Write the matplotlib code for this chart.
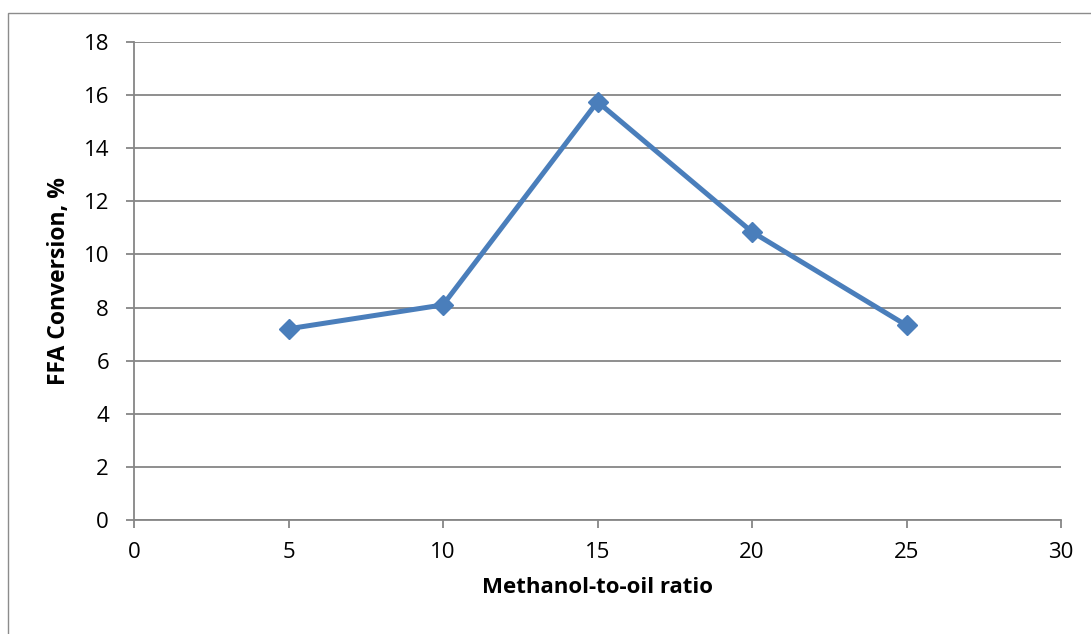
import matplotlib
matplotlib.use("Agg")
import matplotlib.pyplot as plt
from matplotlib.patches import Rectangle

ratio = [5, 10, 15, 20, 25]
conversion = [7.2, 8.1, 15.75, 10.85, 7.33]
x_ticks = [0, 5, 10, 15, 20, 25, 30]
y_ticks = [0, 2, 4, 6, 8, 10, 12, 14, 16, 18]

plt.rcParams['font.family'] = ['Open Sans', 'DejaVu Sans']

W, H = 1091, 634
fig = plt.figure(figsize=(W / 100, H / 100), dpi=100)
ax = fig.add_axes([134 / W, 1 - 520 / H, (1061 - 134) / W, (520 - 42) / H])

grey = '#868686'
ax.plot(ratio, conversion, color='#4A7EBB', linewidth=3.6, marker='D',
        markersize=10.5, markerfacecolor='#4A7EBB', markeredgecolor='#4A7EBB',
        solid_joinstyle='round', zorder=3, clip_on=False)

ax.set_xlim(0, 30)
ax.set_ylim(0, 18)
ax.set_xticks(x_ticks)
ax.set_yticks(y_ticks)
ax.set_xticklabels([str(v) for v in x_ticks])
ax.set_yticklabels([str(v) for v in y_ticks])
ax.yaxis.grid(True, color=grey, linewidth=1.3)
ax.set_axisbelow(True)
for s in ['top', 'right']:
    ax.spines[s].set_visible(False)
for s in ['left', 'bottom']:
    ax.spines[s].set_color(grey)
    ax.spines[s].set_linewidth(1.3)
ax.tick_params(axis='both', direction='out', length=6, width=1.3, color=grey,
               labelsize=16, labelcolor='black')
ax.tick_params(axis='y', pad=12)
ax.tick_params(axis='x', pad=10)

ax.set_xlabel('Methanol-to-oil ratio', fontsize=16, fontweight='bold', labelpad=10)
ax.set_ylabel('FFA Conversion, %', fontsize=16.5, fontweight='bold', labelpad=9)

fig.patches.append(Rectangle((8 / W, -0.1), 1.2, 1 - 13 / H + 0.1,
                             transform=fig.transFigure, fill=False,
                             edgecolor='#8c8c8c', linewidth=1.0))

fig.savefig('out.png', dpi=100)
